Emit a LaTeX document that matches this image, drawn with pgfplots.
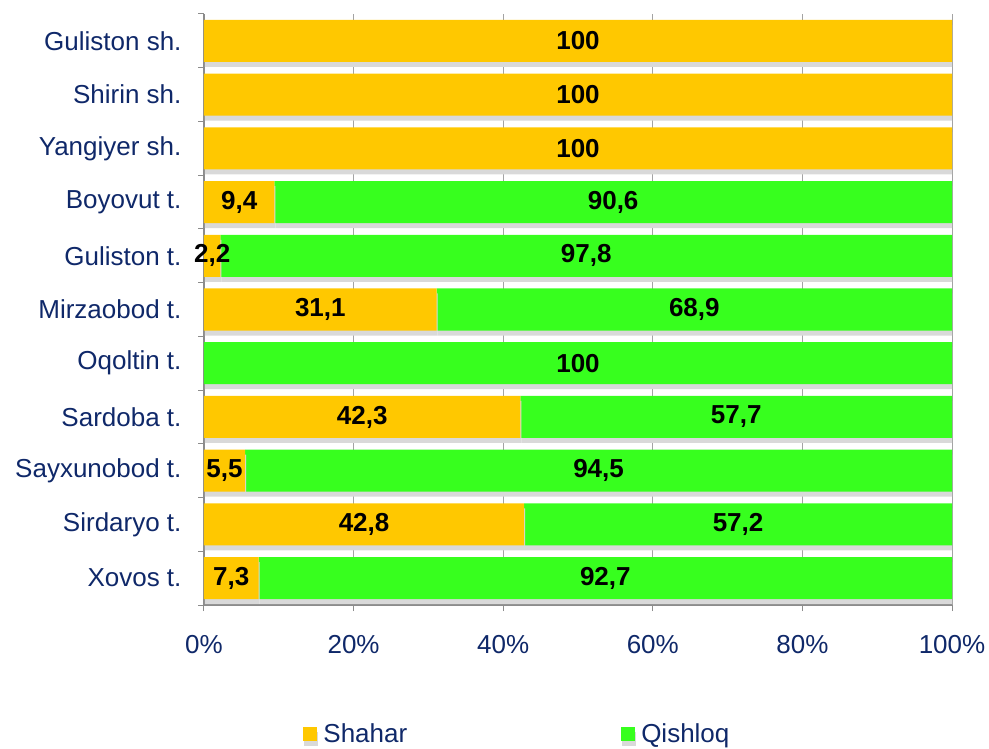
\documentclass[border=0pt]{standalone}
\usepackage{pgfplots}
\pgfplotsset{compat=1.18}
\usepackage{pgfplotstable}
\usepackage{fontspec}
\setmainfont{Liberation Sans}
\definecolor{navy}{RGB}{15,40,105}
\definecolor{gold}{RGB}{255,200,0}
\definecolor{grn}{RGB}{55,255,30}
\definecolor{axgray}{RGB}{140,140,140}
\pgfplotstableread{
idx s q
0 7.3 92.7
1 42.8 57.2
2 5.5 94.5
3 42.3 57.7
4 0 100
5 31.1 68.9
6 2.2 97.8
7 9.4 90.6
8 100 0
9 100 0
10 100 0
}\datatable

\begin{document}
\begin{tikzpicture}[x=1pt,y=1pt]
\useasboundingbox (0,0) rectangle (989,748);
\begin{axis}[
  at={(204pt,143pt)}, anchor=south west,
  scale only axis, width=748pt, height=591pt,
  xbar stacked, bar width=42pt,
  xmin=0, xmax=100, ymin=-0.5, ymax=10.5,
  xtick={0,20,...,100}, xticklabels={0\%,20\%,40\%,60\%,80\%,100\%},
  ytick={0,...,10},
  yticklabels={Xovos t.,Sirdaryo t.,Sayxunobod t.,Sardoba t.,Oqoltin t.,Mirzaobod t.,Guliston t.,Boyovut t.,Yangiyer sh.,Shirin sh.,Guliston sh.},
  minor ytick={-0.5,0.5,...,10.5},
  tick align=outside, major tick length=6pt, minor tick length=6pt,
  tick style={axgray, line width=1pt},
  major y tick style={draw=none},
  axis x line*=bottom, axis y line*=left,
  axis line style={axgray, line width=1.2pt, -},
  xmajorgrids, grid style={axgray!80, line width=1pt},
  tick label style={font=\fontsize{26}{31}\selectfont, text=navy},
  yticklabel style={xshift=-13pt},
  xticklabel style={yshift=-21pt},
  point meta=explicit,
  nodes near coords={\pgfmathfloatifflags{\pgfplotspointmeta}{0}{}{\pgfmathprintnumber[assume math mode=true]{\pgfplotspointmeta}}},
  every node near coord/.append style={font=\bfseries\fontsize{26}{31}\selectfont, text=black, anchor=center},
  /pgf/number format/.cd, use comma, fixed, precision=1, 1000 sep={},
  /pgfplots/.cd,
  legend style={draw=none, fill=none, at={(axis description cs:0.419,-0.218)}, anchor=center,
    font=\fontsize{26}{31}\selectfont, text=navy,
    /tikz/every even column/.append style={column sep=212pt}},
  legend columns=2,
  legend image code/.code={\path[#1] (0pt,-7pt) rectangle (14pt,7pt); \path (18pt,0pt);},
]
\addplot[fill=gold, draw=none,
  preaction={fill=black!15, transform canvas={xshift=1pt, yshift=-5pt}}]
  table[x=s, y=idx, meta=s] {\datatable};
\addlegendentry{Shahar}
\addplot[fill=grn, draw=none,
  preaction={fill=black!15, transform canvas={xshift=1pt, yshift=-5pt}}]
  table[x=q, y=idx, meta=q] {\datatable};
\addlegendentry{Qishloq}
\end{axis}
\end{tikzpicture}
\end{document}
